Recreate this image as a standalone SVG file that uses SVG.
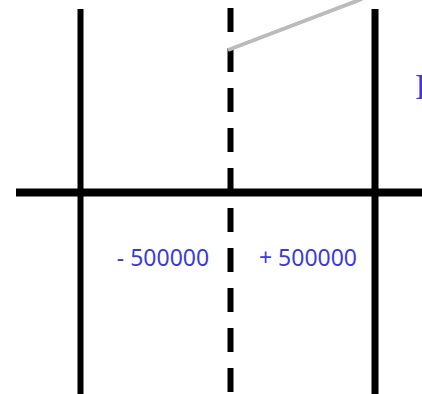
<svg xmlns="http://www.w3.org/2000/svg" width="422" height="394" viewBox="0 0 422 394">
<style>
.axis{stroke:#000;fill:none}
.lbl{font-family:"Noto Sans","Open Sans",sans-serif;font-size:23px;fill:#3b3bdc}
.big{font-family:"Liberation Serif",serif;font-size:36px;fill:#3b3bdc}
</style>
<rect width="422" height="394" fill="#fff"/>
<g id="connectors">
<line class="axis" x1="80.5" y1="9" x2="80.5" y2="394" stroke-width="6"/>
<line class="axis" x1="375" y1="9" x2="375" y2="394" stroke-width="7"/>
<line class="axis" x1="230.5" y1="8" x2="230.5" y2="394" stroke-width="6" stroke-dasharray="24 16"/>
<line class="axis" x1="16" y1="192.5" x2="422" y2="192.5" stroke-width="8"/>
<line x1="228" y1="50" x2="362" y2="-1" stroke="#bbbbbb" stroke-width="4"/>
</g>
<g id="label-minus"><text class="lbl" x="163" y="266" text-anchor="middle">- 500000</text></g>
<g id="label-plus"><text class="lbl" x="308" y="266" text-anchor="middle">+ 500000</text></g>
<g id="label-right"><text class="big" x="415" y="99">I</text></g>
</svg>
